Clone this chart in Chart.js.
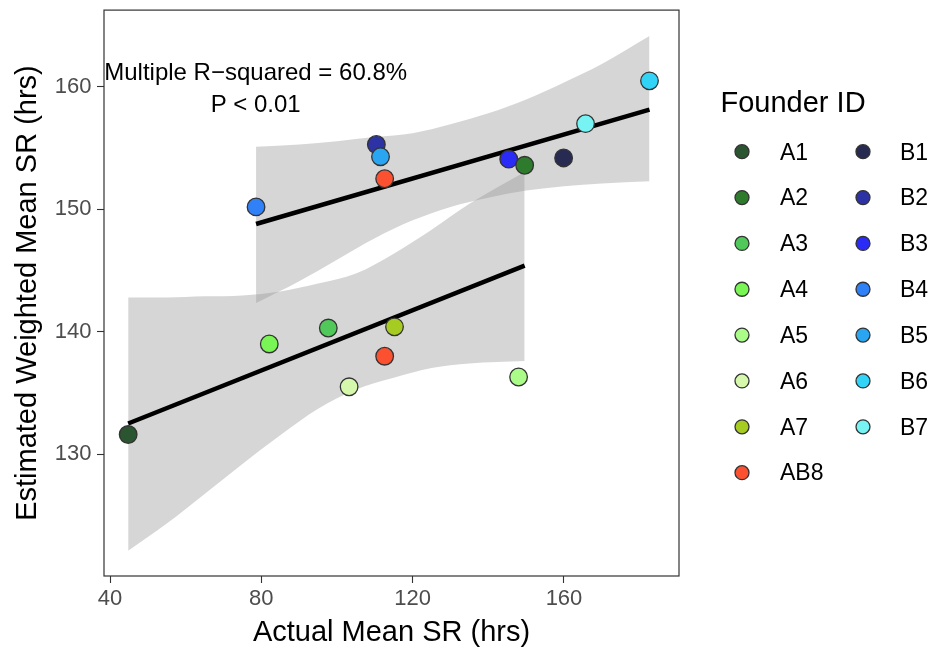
<!DOCTYPE html>
<html>
<head>
<meta charset="utf-8">
<title>Actual vs Estimated Weighted Mean SR</title>
<script src="https://cdn.jsdelivr.net/npm/chart.js@4.4.1/dist/chart.umd.min.js"></script>
<style>
  html, body { margin: 0; padding: 0; background: #fff; }
  #wrap { width: 931px; height: 648px; }
</style>
</head>
<body>
<div id="wrap"><canvas id="srChart" width="931" height="648"></canvas></div>
<script>
  // Founders, in legend order, and their fill colours
  const founderIds = ['A1', 'A2', 'A3', 'A4', 'A5', 'A6', 'A7', 'AB8', 'B1', 'B2', 'B3', 'B4', 'B5', 'B6', 'B7'];
  const founderColors = ['#2b5530', '#2e7b2e', '#50c95a', '#7af556', '#aafb88', '#d5f8ac', '#a6cc22', '#fb5130',
                         '#272b52', '#2d33a5', '#2b2bf7', '#3080f8', '#29a5f2', '#31d4f7', '#77f3f3'];

  // One entry per observation (AB8 appears in both groups)
  const pointFounder = ['B1', 'B2', 'B3', 'B4', 'B5', 'B6', 'B7', 'A1', 'A2', 'A3', 'A4', 'A5', 'A6', 'A7', 'AB8', 'AB8'];
  const actualSR    = [159.9, 110.4, 145.4, 78.6, 111.5, 182.6, 165.7, 44.8, 149.6, 97.7, 82.1, 148.0, 103.2, 115.2, 112.6, 112.6];
  const estimatedSR = [154.2, 155.3, 154.1, 150.2, 154.3, 160.5, 157.0, 131.6, 153.6, 140.3, 139.0, 136.3, 135.5, 140.4, 138.0, 152.5];

  // Fitted lines (end points)
  const fitA_x = [44.8, 149.6];
  const fitA_y = [132.5, 145.4];
  const fitB_x = [78.6, 182.6];
  const fitB_y = [148.8, 158.15];

  // Confidence bands
  const bandA_x  = [44.8, 55, 65, 75, 85, 95, 105, 115, 125, 135, 149.6];
  const bandA_lo = [122.10, 124.33, 126.75, 129.20, 131.54, 133.70, 135.28, 136.24, 137.03, 137.40, 137.60];
  const bandA_hi = [142.80, 142.80, 142.89, 142.97, 143.29, 143.94, 144.76, 146.38, 148.33, 150.45, 153.05];
  const bandB_x  = [78.6, 90, 100, 110, 120, 130, 140, 150, 160, 170, 182.6];
  const bandB_lo = [142.34, 144.13, 145.89, 147.64, 149.10, 150.20, 150.95, 151.53, 151.89, 152.11, 152.29];
  const bandB_hi = [155.12, 155.30, 155.57, 155.91, 156.22, 156.95, 157.85, 158.98, 160.37, 161.87, 164.16];

  // Axis ticks
  const xTicks = [40, 80, 120, 160];
  const yTicks = [130, 140, 150, 160];

  const statLines = ['Multiple R\u2212squared = 60.8%', 'P < 0.01'];

  const FONT = '"Liberation Sans", Arial, Helvetica, sans-serif';
  Chart.defaults.font.family = FONT;

  const toXY = (xs, ys) => xs.map((x, i) => ({ x: x, y: ys[i] }));
  const colorOf = id => founderColors[founderIds.indexOf(id)];

  const bandStyle = {
      type: 'line',
      borderWidth: 0,
      pointRadius: 0,
      cubicInterpolationMode: 'monotone',
      backgroundColor: 'rgba(153, 153, 153, 0.4)',
      order: 2
  };

  const fitStyle = {
      type: 'line',
      borderColor: '#000000',
      borderWidth: 4.5,
      borderCapStyle: 'butt',
      pointRadius: 0,
      fill: false,
      order: 1
  };

  // Panel frame, stat text and founder legend
  const decorations = {
      id: 'decorations',
      afterDatasetsDraw(chart) {
          const { ctx, chartArea, scales } = chart;
          ctx.save();
          ctx.fillStyle = '#000000';
          ctx.font = '24px ' + FONT;
          ctx.textAlign = 'center';
          ctx.textBaseline = 'alphabetic';
          const cx = scales.x.getPixelForValue(78.5);
          ctx.fillText(statLines[0], cx, scales.y.getPixelForValue(160.6));
          ctx.fillText(statLines[1], cx, scales.y.getPixelForValue(157.93));

          ctx.strokeStyle = '#333333';
          ctx.lineWidth = 1.2;
          ctx.strokeRect(chartArea.left, chartArea.top, chartArea.right - chartArea.left, chartArea.bottom - chartArea.top);
          ctx.restore();
      },
      afterDraw(chart) {
          const ctx = chart.ctx;
          ctx.save();
          ctx.fillStyle = '#000000';
          ctx.textAlign = 'left';
          ctx.textBaseline = 'alphabetic';
          ctx.font = '29px ' + FONT;
          ctx.fillText('Founder ID', 720.5, 111.5);

          ctx.font = '23px ' + FONT;
          ctx.textBaseline = 'middle';
          founderIds.forEach((id, i) => {
              const col = i < 8 ? 0 : 1;
              const row = i < 8 ? i : i - 8;
              const dotX = col ? 863 : 742;
              const rowY = 151.7 + row * 45.85;
              ctx.beginPath();
              ctx.arc(dotX, rowY, 7, 0, Math.PI * 2);
              ctx.fillStyle = founderColors[i];
              ctx.fill();
              ctx.lineWidth = 1.3;
              ctx.strokeStyle = '#333333';
              ctx.stroke();
              ctx.fillStyle = '#000000';
              ctx.fillText(id, col ? 900 : 780, rowY + 1.5);
          });
          ctx.restore();
      }
  };

  // Fixed axis boxes, no extra room for end labels
  const fixBox = size => scale => {
      if (scale.isHorizontal()) {
          scale.height = size;
      } else {
          scale.width = size;
      }
      scale.paddingTop = 0;
      scale.paddingBottom = 0;
      scale.paddingLeft = 0;
      scale.paddingRight = 0;
  };

  const ctx = document.getElementById('srChart').getContext('2d');

  const chart = new Chart(ctx, {
      type: 'line',
      data: {
          datasets: [
              Object.assign({ label: 'bandA_hi', data: toXY(bandA_x, bandA_hi), fill: '+1' }, bandStyle),
              Object.assign({ label: 'bandA_lo', data: toXY(bandA_x, bandA_lo), fill: false }, bandStyle),
              Object.assign({ label: 'bandB_hi', data: toXY(bandB_x, bandB_hi), fill: '+1' }, bandStyle),
              Object.assign({ label: 'bandB_lo', data: toXY(bandB_x, bandB_lo), fill: false }, bandStyle),
              Object.assign({ label: 'fitA', data: toXY(fitA_x, fitA_y) }, fitStyle),
              Object.assign({ label: 'fitB', data: toXY(fitB_x, fitB_y) }, fitStyle),
              {
                  type: 'line',
                  label: 'Founder ID',
                  data: toXY(actualSR, estimatedSR),
                  showLine: false,
                  pointRadius: 8.8,
                  pointBackgroundColor: pointFounder.map(colorOf),
                  pointBorderColor: '#333333',
                  pointBorderWidth: 1.3,
                  order: 0
              }
          ]
      },
      options: {
          responsive: false,
          animation: false,
          events: [],
          layout: {
              padding: { left: 0, right: 252, top: 7.3, bottom: 0 }
          },
          plugins: {
              legend: { display: false },
              tooltip: { enabled: false }
          },
          scales: {
              x: {
                  type: 'linear',
                  min: 38.41,
                  max: 190.4,
                  afterBuildTicks: scale => { scale.ticks = xTicks.map(v => ({ value: v })); },
                  afterFit: fixBox(72),
                  border: { display: false },
                  grid: {
                      drawOnChartArea: false,
                      drawTicks: true,
                      tickLength: 7,
                      tickColor: '#333333',
                      tickWidth: 1.1
                  },
                  ticks: {
                      color: '#4d4d4d',
                      font: { size: 22 },
                      padding: 3,
                      maxRotation: 0
                  },
                  title: {
                      display: true,
                      text: 'Actual Mean SR (hrs)',
                      color: '#000000',
                      font: { size: 29, lineHeight: 1 },
                      padding: { top: 0, bottom: 1 }
                  }
              },
              y: {
                  type: 'linear',
                  min: 120.04,
                  max: 166.28,
                  afterBuildTicks: scale => { scale.ticks = yTicks.map(v => ({ value: v })); },
                  afterFit: fixBox(104),
                  border: { display: false },
                  grid: {
                      drawOnChartArea: false,
                      drawTicks: true,
                      tickLength: 7,
                      tickColor: '#333333',
                      tickWidth: 1.1
                  },
                  ticks: {
                      color: '#4d4d4d',
                      font: { size: 22 },
                      padding: 5.5
                  },
                  title: {
                      display: true,
                      text: 'Estimated Weighted Mean SR (hrs)',
                      color: '#000000',
                      font: { size: 29, lineHeight: 1 },
                      padding: { top: 13, bottom: 0 }
                  }
              }
          }
      },
      plugins: [decorations]
  });
</script>
</body>
</html>
